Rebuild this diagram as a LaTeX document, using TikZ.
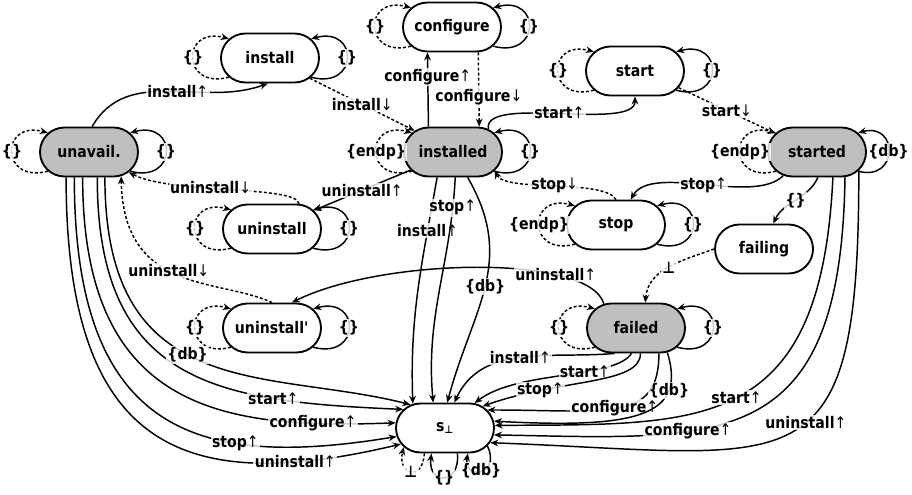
\documentclass[tikz,border=0pt]{standalone}
\usepackage{fontspec}
\setmainfont{DejaVu Sans}[FakeStretch=0.88]
\newfontfamily\arrowfont{DejaVu Sans}[FakeStretch=0.88]
\usetikzlibrary{arrows.meta,shapes.misc}
\newcommand{\upar}{{\mdseries\arrowfont ↑}}
\newcommand{\dnar}{{\mdseries\arrowfont ↓}}

\begin{document}
\begin{tikzpicture}[x=0.75pt,y=0.75pt,
  font=\bfseries\fontsize{12}{14}\selectfont,
  state/.style={rounded rectangle, draw, line width=1.4pt,
    minimum width=73.5pt, minimum height=36.75pt, inner sep=0pt},
  core/.style={state, fill=black!25},
  tr/.style={line width=1.1pt, -{Stealth[length=6pt,width=5pt]}},
  env/.style={tr, dash pattern=on 2.2pt off 1.6pt},
  lbl/.style={fill=white, fill opacity=0.8, text opacity=1, inner sep=1pt},
  lloop/.style={out=195,in=165,looseness=3.3},
  rloop/.style={out=-15,in=15,looseness=3.3},
]
\useasboundingbox (0,0) rectangle (912,494);

% states
\node[core]  (unavail)    at (89,342)  {unavail.};
\node[state] (install)    at (270,436) {install};
\node[state] (configure)  at (452,467) {configure};
\node[core]  (installed)  at (453,342) {installed};
\node[state] (start)      at (635,423) {start};
\node[core]  (started)    at (817,342) {started};
\node[state] (uninstall)  at (272,265) {uninstall};
\node[state] (stop)       at (616,269) {stop};
\node[state] (failing)    at (764,245) {failing};
\node[state] (uninstallp) at (272,166) {uninstall\textquotesingle};
\node[core]  (failed)     at (636,166) {failed};
\node[state] (sbot)       at (445,66)  {s\textsubscript{⊥}};

% self loops
\draw[env] (unavail.205) to[lloop] node[lbl]{\{\}} (unavail.155);
\draw[tr]  (unavail.-25) to[rloop] node[lbl]{\{\}} (unavail.25);
\draw[env] (install.205) to[lloop] node[lbl]{\{\}} (install.155);
\draw[tr]  (install.-25) to[rloop] node[lbl]{\{\}} (install.25);
\draw[env] (configure.205) to[lloop] node[lbl]{\{\}} (configure.155);
\draw[tr]  (configure.-25) to[rloop] node[lbl]{\{\}} (configure.25);
\draw[env] (installed.205) to[lloop] node[lbl]{\{endp\}} (installed.155);
\draw[tr]  (installed.-25) to[rloop] node[lbl]{\{\}} (installed.25);
\draw[env] (start.205) to[lloop] node[lbl]{\{\}} (start.155);
\draw[tr]  (start.-25) to[rloop] node[lbl]{\{\}} (start.25);
\draw[env] (started.205) to[lloop] node[lbl]{\{endp\}} (started.155);
\draw[tr]  (started.-25) to[rloop,looseness=2.8] node[lbl]{\{db\}} (started.25);
\draw[env] (uninstall.205) to[lloop] node[lbl]{\{\}} (uninstall.155);
\draw[tr]  (uninstall.-25) to[rloop] node[lbl]{\{\}} (uninstall.25);
\draw[env] (stop.205) to[lloop] node[lbl]{\{endp\}} (stop.155);
\draw[tr]  (stop.-25) to[rloop] node[lbl]{\{\}} (stop.25);
\draw[env] (uninstallp.205) to[lloop] node[lbl]{\{\}} (uninstallp.155);
\draw[tr]  (uninstallp.-25) to[rloop] node[lbl]{\{\}} (uninstallp.25);
\draw[env] (failed.205) to[lloop] node[lbl]{\{\}} (failed.155);
\draw[tr]  (failed.-25) to[rloop] node[lbl]{\{\}} (failed.25);

\draw[env] (sbot.-129) .. controls +(-2,-29.5) and +(-7,-27) .. node[lbl]{⊥} (sbot.205);
\draw[tr]  (sbot.-64) .. controls +(3,-32) and +(-4,-32) .. node[lbl]{\{\}} (sbot.-118);
\draw[tr]  (sbot.-23) .. controls +(14,-30) and +(-5,-27) .. node[lbl]{\{db\}} (sbot.-48);

% transitions between states
\draw[tr]  (unavail.83) to[out=60,in=200] node[lbl,pos=.55]{install\upar} (install.-95);
\draw[env] (install.-27) -- node[lbl]{install\dnar} (installed.151);
\draw[tr]  (installed.134) -- node[lbl,pos=.67]{configure\upar} (configure.-134);
\draw[env] (configure.-44) -- node[lbl,pos=.6]{configure\dnar} (installed.44);
\draw[tr]  (installed.33) to[out=100,in=-90,looseness=.6] node[lbl]{start\upar} (start.-90);
\draw[env] (start.-21) -- node[lbl]{start\dnar} (started.156);
\draw[tr]  (started.215) to[out=-135,in=60,looseness=.7] node[lbl]{stop\upar} (stop.60);
\draw[env] (stop.90) to[out=120,in=-65,looseness=.5] node[lbl]{stop\dnar} (installed.-24);
\draw[tr]  (installed.203) -- node[lbl]{uninstall\upar} (uninstall.24);
\draw[env] (uninstall.43) .. controls +(-3,18.6) and +(42,-22) .. node[lbl,pos=.58]{uninstall\dnar} (unavail.-27);
\draw[env] (uninstallp.90) .. controls +(-52,24.5) and +(2,-118.5) .. node[lbl,pos=.55]{uninstall\dnar} (unavail.-37);
\draw[tr]  (failed.143) .. controls +(-14.7,50.5) and +(88.9,44.5) .. node[lbl,pos=.27]{uninstall\upar} (uninstallp.52);
\draw[tr]  (started.-88) to[out=-115,in=65] node[lbl]{\{\}} (failing.70);
\draw[env] (failing.180) to[out=200,in=85] node[lbl]{⊥} (failed.70);

% transitions into s_bot from unavail.
\draw[tr] (unavail.228) .. controls +(0,-277.5) and +(-211.8,-50.3) .. node[lbl,pos=.82]{uninstall\upar} (sbot.200);
\draw[tr] (unavail.240) .. controls +(0,-257.5) and +(-197.5,-32.6) .. node[lbl,pos=.69]{stop\upar} (sbot.190);
\draw[tr] (unavail.256) .. controls +(0,-237.5) and +(-166.5,-6.1) .. node[lbl,pos=.83]{configure\upar} (sbot.174);
\draw[tr] (unavail.-72) .. controls +(0,-207.5) and +(-184.1,7.8) .. node[lbl,pos=.74]{start\upar} (sbot.156);
\draw[tr] (unavail.-58) .. controls +(0,-227.5) and +(-141.3,36.3) .. node[lbl,pos=.45]{\{db\}} (sbot.146);

% transitions into s_bot from installed
\draw[tr] (installed.238) to[out=-100,in=92] node[lbl,pos=.22]{install\upar} (sbot.143);
\draw[tr] (installed.-85) to[out=-93,in=95] node[lbl,pos=.12]{stop\upar} (sbot.115);
\draw[tr] (installed.-60) to[out=-60,in=75,looseness=1.1] node[lbl]{\{db\}} (sbot.85);

% transitions into s_bot from failed
\draw[tr] (failed.-130) to[out=185,in=65] node[lbl]{install\upar} (sbot.70);
\draw[tr] (failed.-100) .. controls +(-17,-26) and +(43,33) .. node[lbl,pos=.38]{start\upar} (sbot.40);
\draw[tr] (failed.-80) .. controls +(0,-31.5) and +(78.3,27.8) .. node[lbl,pos=.75]{stop\upar} (sbot.30);
\draw[tr] (failed.-48) .. controls +(0,-70) and +(120,0) .. node[lbl,pos=.52]{configure\upar} (sbot.23);
\draw[tr] (failed.-38) .. controls +(19,-62) and +(147,-8) .. node[lbl,pos=.25]{\{db\}} (sbot.8);

% transitions into s_bot from started
\draw[tr] (started.-58) .. controls +(-12.3,-257.5) and +(206.1,1.4) .. node[lbl,pos=.5]{start\upar} (sbot.3);
\draw[tr] (started.-42) .. controls +(-4,-277.6) and +(227,-4.2) .. node[lbl,pos=.66]{configure\upar} (sbot.-8);
\draw[tr] (started.-24) .. controls +(0,-323.8) and +(310.7,-11.6) .. node[lbl,pos=.45]{uninstall\upar} (sbot.-18);
\end{tikzpicture}
\end{document}
